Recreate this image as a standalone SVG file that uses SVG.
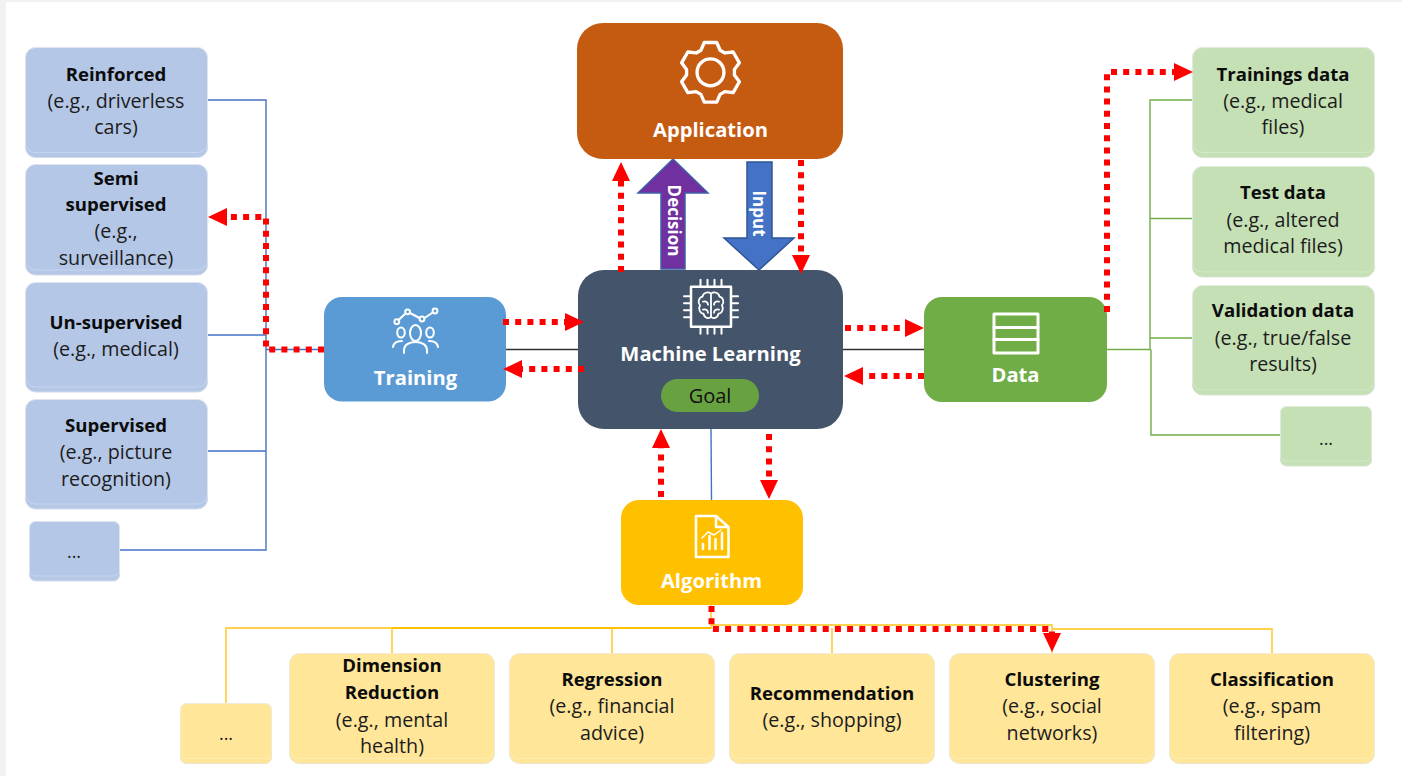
<svg xmlns="http://www.w3.org/2000/svg" width="1402" height="776" viewBox="0 0 1402 776">
<style>
text{font-family:"Open Sans","Noto Sans","Liberation Sans",sans-serif;text-anchor:middle}
.h{font-size:20.2px;font-weight:700;fill:#fff}
.b{font-size:18.6px;font-weight:700;fill:#0c0c0c}
.t{font-size:19.7px;fill:#1c1c1c}
.d{font-size:18px;fill:#1c1c1c}
.v{font-size:17px;font-weight:700;fill:#fff}
.bl{fill:#B4C7E7;stroke:#d4dbe8}
.gr{fill:#C5E0B4;stroke:#d8e2d2}
.ye{fill:#FFE699;stroke:#ebe4cd}
.in{fill:none;stroke:#fff;stroke-opacity:.25}
.ic{fill:none;stroke:#fff;stroke-width:3;stroke-linejoin:round;stroke-linecap:round}
.ic2{fill:none;stroke:#fff;stroke-width:2;stroke-linejoin:round;stroke-linecap:round}
.c{fill:none;stroke-width:1.4}
.r{fill:none;stroke:#f00;stroke-width:6;stroke-dasharray:6 6.2;marker-end:url(#ah)}
</style>
<defs>
<marker id="ah" markerUnits="userSpaceOnUse" markerWidth="19" markerHeight="20" refX="0" refY="10" orient="auto"><path d="M0,1 L19,10 L0,19 Z" fill="#f00"/></marker>
</defs>
<rect width="1402" height="776" fill="#f2f2f2"/>
<rect x="6" y="2" width="1396" height="774" fill="#fff"/>

<g id="decision">
<path d="M661,269 V193 H638 L673,159 L708,193 H685 V269 Z" fill="#7030A0" stroke="#3f5fa8" stroke-width="1.500"/>
<text class="v" transform="translate(668,220.500) rotate(90)">Decision</text>
</g>
<g id="input">
<path d="M747,162 H772 V238 H794 L759,270 L724,238 H747 Z" fill="#4472C4" stroke="#2F5597" stroke-width="1.500"/>
<text class="v" transform="translate(753,213.500) rotate(90)">Input</text>
</g>

<g id="application">
<rect x="577" y="23" width="266" height="136" rx="26" fill="#C55A11"/>
<g transform="translate(710.500,72.300) scale(.96)">
<path class="ic" style="stroke-width:3.500" d="M-10,-23 L-6.500,-31 H6.500 L10,-23 L14.920,-20.160 L23.600,-21.130 L30.100,-9.870 L24.920,-2.840 V2.840 L30.100,9.870 L23.600,21.130 L14.920,20.160 L10,23 L6.500,31 H-6.500 L-10,23 L-14.920,20.160 L-23.600,21.130 L-30.100,9.870 L-24.920,2.840 V-2.840 L-30.100,-9.870 L-23.600,-21.130 L-14.920,-20.160 Z"/>
<circle class="ic" style="stroke-width:3.500" r="14"/>
</g>
<text class="h" x="710.500" y="136.500">Application</text>
</g>

<g id="machine-learning">
<rect x="578" y="270" width="265" height="159" rx="26" fill="#44546A"/>
<g transform="translate(711,306.700)">
<rect class="ic" style="stroke-width:2.500" x="-20" y="-20" width="40" height="40"/>
<path class="ic" style="stroke-width:2" d="M-10.500,-20 V-27 M-3.500,-20 V-27 M3.500,-20 V-27 M10.500,-20 V-27 M-10.500,20 V27 M-3.500,20 V27 M3.500,20 V27 M10.500,20 V27 M-20,-10.500 H-27 M-20,-3.500 H-27 M-20,3.500 H-27 M-20,10.500 H-27 M20,-10.500 H27 M20,-3.500 H27 M20,3.500 H27 M20,10.500 H27"/>
<path class="ic" style="stroke-width:1.800" d="M0,-13 C-3,-15.500 -8,-14 -8.500,-10 C-12.500,-9 -13.500,-4 -11,-1.500 C-13,2 -11,7 -7.500,7 C-6.500,11.500 -2,12.500 0,10 C2,12.500 6.500,11.500 7.500,7 C11,7 13,2 11,-1.500 C13.500,-4 12.500,-9 8.500,-10 C8,-14 3,-15.500 0,-13 Z M0,-13 V10 M-8,-5 C-5,-6 -3,-4 -3,-2 M8,-5 C5,-6 3,-4 3,-2 M-8,3 C-5,2 -3,4 -3,6 M8,3 C5,2 3,4 3,6"/>
</g>
<text class="h" x="710.500" y="361">Machine Learning</text>
<rect x="661" y="379" width="98" height="33" rx="16.500" fill="#68A240"/>
<text x="710" y="402.500" style="font-size:20px;fill:#111">Goal</text>
</g>

<g id="training">
<rect x="324" y="297" width="182" height="104.500" rx="18" fill="#5B9BD5"/>
<g class="ic2">
<path d="M398.500,320 L405.500,313.500 M410,313 L419.500,318 M424.500,318 L432.800,312.500"/>
<circle cx="396.800" cy="321.700" r="2.400"/><circle cx="407.600" cy="311.800" r="2.400"/><circle cx="422" cy="319" r="2.400"/><circle cx="435" cy="311" r="2.400"/>
<ellipse cx="415.500" cy="333" rx="5.500" ry="8"/><ellipse cx="401" cy="332.500" rx="3.800" ry="5"/><ellipse cx="430" cy="332.500" rx="3.800" ry="5"/>
<path d="M404,353 V350 C404,345 409,342 415.500,342 C422,342 427,345 427,350 V353"/>
<path d="M393,347 C393.500,343 397,341 402,341 M438,347 C437.500,343 434,341 429,341"/>
</g>
<text class="h" x="415.500" y="385">Training</text>
</g>

<g id="data">
<rect x="924" y="297" width="183" height="105" rx="18" fill="#70AD47"/>
<rect class="ic" x="994" y="314" width="44" height="39"/>
<path class="ic" d="M994,327.500 H1038 M994,339.500 H1038"/>
<text class="h" x="1015.500" y="382">Data</text>
</g>

<g id="algorithm">
<rect x="621" y="500" width="182" height="105" rx="18" fill="#FFC000"/>
<path class="ic" style="stroke-width:2.500" d="M716,516 H696 V557 H728.500 V527 L716,516 V527 H728.500"/>
<path class="ic" style="stroke-width:2.500" d="M703,549 V544 M709.500,549 V536 M715.500,549 V539 M722,549 V533"/>
<path class="ic" style="stroke-width:1.500" d="M702,538 L708,532 L714,535 L721,530"/>
<text class="h" x="711.500" y="587.500">Algorithm</text>
</g>

<g id="reinforced"><rect class="bl" x="25.500" y="47.500" width="182" height="110" rx="10"/><rect class="in" x="25.500" y="47.500" width="182" height="105" rx="10"/>
<text class="b" x="116" y="80.500">Reinforced</text><text class="t" x="116" y="107.500">(e.g., driverless</text><text class="t" x="116" y="134">cars)</text></g>
<g id="semi-supervised"><rect class="bl" x="25.500" y="164.500" width="182" height="110.500" rx="10"/><rect class="in" x="25.500" y="164.500" width="182" height="105.500" rx="10"/>
<text class="b" x="116" y="185">Semi</text><text class="b" x="116" y="211">supervised</text><text class="t" x="116" y="238">(e.g.,</text><text class="t" x="116" y="265">surveillance)</text></g>
<g id="un-supervised"><rect class="bl" x="25.500" y="282.500" width="182" height="109.500" rx="10"/><rect class="in" x="25.500" y="282.500" width="182" height="104.500" rx="10"/>
<text class="b" x="116" y="329">Un-supervised</text><text class="t" x="116" y="355.500">(e.g., medical)</text></g>
<g id="supervised"><rect class="bl" x="25.500" y="399.500" width="182" height="109.500" rx="10"/><rect class="in" x="25.500" y="399.500" width="182" height="104.500" rx="10"/>
<text class="b" x="116" y="431.500">Supervised</text><text class="t" x="116" y="459">(e.g., picture</text><text class="t" x="116" y="485.500">recognition)</text></g>
<g id="training-more"><rect class="bl" x="29.500" y="521.500" width="90" height="59.500" rx="6"/><rect class="in" x="29.500" y="521.500" width="90" height="54.500" rx="6"/>
<text class="d" x="74" y="558">...</text></g>

<g id="trainings-data"><rect class="gr" x="1192.500" y="47.500" width="182" height="110" rx="10"/><rect class="in" x="1192.500" y="47.500" width="182" height="105" rx="10"/>
<text class="b" x="1283" y="80.500">Trainings data</text><text class="t" x="1283" y="107.500">(e.g., medical</text><text class="t" x="1283" y="134">files)</text></g>
<g id="test-data"><rect class="gr" x="1192.500" y="166.500" width="182" height="110.500" rx="10"/><rect class="in" x="1192.500" y="166.500" width="182" height="105.500" rx="10"/>
<text class="b" x="1283" y="199">Test data</text><text class="t" x="1283" y="226.500">(e.g., altered</text><text class="t" x="1283" y="252.500">medical files)</text></g>
<g id="validation-data"><rect class="gr" x="1192.500" y="285.500" width="182" height="109.500" rx="10"/><rect class="in" x="1192.500" y="285.500" width="182" height="104.500" rx="10"/>
<text class="b" x="1283" y="317">Validation data</text><text class="t" x="1283" y="344.500">(e.g., true/false</text><text class="t" x="1283" y="371">results)</text></g>
<g id="data-more"><rect class="gr" x="1280.500" y="406.500" width="91" height="59.500" rx="6"/><rect class="in" x="1280.500" y="406.500" width="91" height="54.500" rx="6"/>
<text class="d" x="1326" y="445">...</text></g>

<g id="algorithm-more"><rect class="ye" x="180.500" y="703.500" width="91" height="60" rx="6"/><rect class="in" x="180.500" y="703.500" width="91" height="55" rx="6"/>
<text class="d" x="226" y="740">...</text></g>
<g id="dimension-reduction"><rect class="ye" x="289.500" y="653.500" width="205" height="110" rx="10"/><rect class="in" x="289.500" y="653.500" width="205" height="105" rx="10"/>
<text class="b" x="392" y="672">Dimension</text><text class="b" x="392" y="698.500">Reduction</text><text class="t" x="392" y="726.500">(e.g., mental</text><text class="t" x="392" y="752.500">health)</text></g>
<g id="regression"><rect class="ye" x="509.500" y="653.500" width="205" height="110" rx="10"/><rect class="in" x="509.500" y="653.500" width="205" height="105" rx="10"/>
<text class="b" x="612" y="686">Regression</text><text class="t" x="612" y="713">(e.g., financial</text><text class="t" x="612" y="739.500">advice)</text></g>
<g id="recommendation"><rect class="ye" x="729.500" y="653.500" width="205" height="110" rx="10"/><rect class="in" x="729.500" y="653.500" width="205" height="105" rx="10"/>
<text class="b" x="832" y="699.500">Recommendation</text><text class="t" x="832" y="726.500">(e.g., shopping)</text></g>
<g id="clustering"><rect class="ye" x="949.500" y="653.500" width="205" height="110" rx="10"/><rect class="in" x="949.500" y="653.500" width="205" height="105" rx="10"/>
<text class="b" x="1052" y="686">Clustering</text><text class="t" x="1052" y="713">(e.g., social</text><text class="t" x="1052" y="739.500">networks)</text></g>
<g id="classification"><rect class="ye" x="1169.500" y="653.500" width="205" height="110" rx="10"/><rect class="in" x="1169.500" y="653.500" width="205" height="105" rx="10"/>
<text class="b" x="1272" y="686">Classification</text><text class="t" x="1272" y="713">(e.g., spam</text><text class="t" x="1272" y="739.500">filtering)</text></g>

<g id="connectors">
<path class="c" stroke="#4472C4" d="M208,100 H266 V550 H120 M208,335 H266 M208,451 H266 M324,349.500 H266"/>
<path class="c" stroke="#4472C4" d="M711,429 L711.500,500"/>
<path class="c" stroke="#333" d="M506,349.500 H578 M843,349.500 H924"/>
<path class="c" stroke="#70AD47" d="M1107,349.500 H1150 V100 H1192 M1150,218.500 H1192 M1150,338 H1192 M1151,349.500 V435 H1280"/>
<path class="c" stroke="#FFD24D" style="stroke-width:1.800" d="M711,605 V628 H226 V703 M392,628 V653 M612,628 V653 M832,628 V653 M711,625 H1052 V653 M1052,629 H1272 V653"/>
<path class="c" stroke="#FFC000" style="stroke-width:2" d="M392,628 H711"/>
<path class="r" d="M324,349.500 H266 V217 H227"/>
<path class="r" d="M503,322 H565"/>
<path class="r" d="M584,369 H522"/>
<path class="r" d="M845,328 H905"/>
<path class="r" d="M924,376 H863"/>
<path class="r" d="M1107,312 V72 H1174"/>
<path class="r" d="M621,272 V181"/>
<path class="r" d="M801,160 V255"/>
<path class="r" d="M661,497 V448"/>
<path class="r" d="M769,434 V480"/>
<path class="r" d="M711.500,606 V629 H1052 V633"/>
</g>
</svg>
